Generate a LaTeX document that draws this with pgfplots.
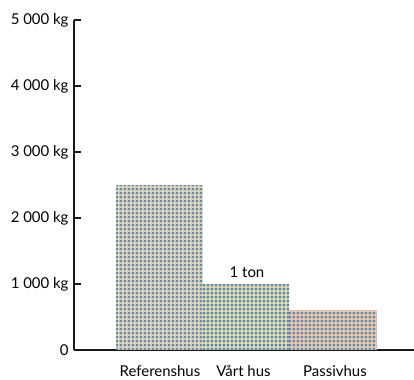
\documentclass[border=0pt]{standalone}
\usepackage{pgfplots}
\pgfplotsset{compat=1.18}
\usepackage{fontspec}
\setmainfont{Lato}
\usetikzlibrary{patterns.meta}
\definecolor{baseA}{HTML}{E2DECA}
\definecolor{dotA}{HTML}{72899A}
\definecolor{baseB}{HTML}{E6E0B0}
\definecolor{dotB}{HTML}{5A86B0}
\definecolor{baseC}{HTML}{F2CBB0}
\definecolor{dotC}{HTML}{628BAC}
\pgfdeclarepattern{
  name=dotgrid,
  type=uncolored,
  bottom left={\pgfpoint{0pt}{0pt}},
  top right={\pgfpoint{4.3bp}{4.3bp}},
  tile size={\pgfpoint{4.3bp}{4.3bp}},
  code={\pgfpathrectangle{\pgfpoint{0.75bp}{0.75bp}}{\pgfpoint{2.8bp}{2.8bp}}\pgfusepath{fill}}
}
\newcommand{\lbl}{\fontsize{15}{17}\selectfont}
\begin{document}
\begin{tikzpicture}
\useasboundingbox (-74bp,-30bp) rectangle (340bp,350bp);
\begin{axis}[
  at={(0,0)}, anchor=origin,
  scale only axis, width=340bp, height=330bp,
  xmin=74, xmax=414, ymin=0, ymax=5000,
  axis x line=bottom, axis y line=left,
  axis line style={-, line width=2.4bp, black!90},
  ytick={0,1000,2000,3000,4000,5000},
  yticklabels={0,1 000 kg,2 000 kg,3 000 kg,4 000 kg,5 000 kg},
  y tick label style={font=\lbl, anchor=east, xshift=-2bp},
  ytick style={line width=2.4bp, black!90},
  major tick length=7bp,
  ytick align=inside,
  xtick={160,243.5,335},
  xticklabels={Referenshus,Vårt hus,Passivhus},
  x tick label style={font=\lbl, yshift=-8.5bp},
  x tick style={draw=none},
  clip=false,
]
\addplot[ybar interval, draw=none, fill=baseA, postaction={pattern={dotgrid}, pattern color=dotA}] coordinates {(116,2500) (203,2500)};
\addplot[ybar interval, draw=none, fill=baseB, postaction={pattern={dotgrid}, pattern color=dotB}] coordinates {(203,1000) (289,1000)};
\addplot[ybar interval, draw=none, fill=baseC, postaction={pattern={dotgrid}, pattern color=dotC}] coordinates {(289,600) (377,600)};
\node[font=\lbl, anchor=base] at (axis cs:247,1106) {1 ton};
\end{axis}
\end{tikzpicture}
\end{document}
